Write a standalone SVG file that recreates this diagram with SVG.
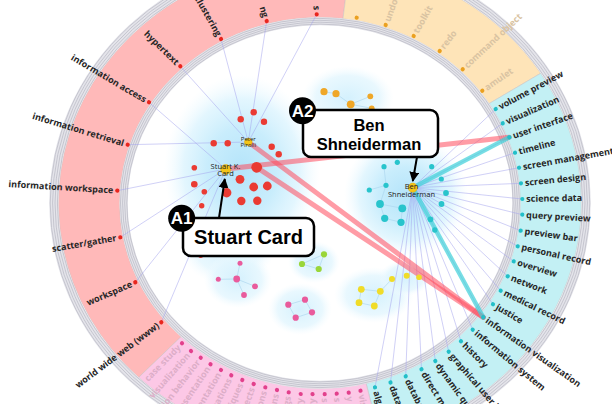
<svg xmlns="http://www.w3.org/2000/svg" width="612" height="404" viewBox="0 0 612 404">
<defs>
<radialGradient id="halo" cx="50%" cy="50%" r="50%">
<stop offset="0" stop-color="#b4e4fa" stop-opacity="1"/>
<stop offset="0.45" stop-color="#c6ecfc" stop-opacity="0.95"/>
<stop offset="0.75" stop-color="#dcf4fe" stop-opacity="0.8"/>
<stop offset="1" stop-color="#eefaff" stop-opacity="0"/>
</radialGradient>
<radialGradient id="haloLight" cx="50%" cy="50%" r="50%">
<stop offset="0" stop-color="#d2f0fd" stop-opacity="0.95"/>
<stop offset="0.7" stop-color="#e3f6fe" stop-opacity="0.8"/>
<stop offset="1" stop-color="#f2fbff" stop-opacity="0"/>
</radialGradient>
<marker id="arrow" viewBox="0 0 10 10" refX="9" refY="5" markerWidth="5" markerHeight="5" orient="auto">
<path d="M0,0 L10,5 L0,10 Z" fill="#000"/>
</marker>
<style>
.lbl{font-family:"Open Sans","DejaVu Sans",sans-serif;font-weight:700;font-size:9px;fill:#262626}
.fadeO{fill:#d9c3a2}
.fadeM{fill:#dcaec8}
.thin{stroke:#a4a4ee;stroke-width:0.65;stroke-opacity:0.8;fill:none}
.edge{stroke:#a8d4ec;stroke-width:0.6;fill:none}
.red{fill:#ea3b33}
.cy{fill:#28c4cc}
.or{fill:#efa728}
.pk{fill:#e95b9c}
.gr{fill:#9ad63a}
.ye{fill:#f0dc28}
.hub{fill:#f5c518;stroke:#e0a800;stroke-width:0.5}
.nname{font-family:"Open Sans","DejaVu Sans",sans-serif;font-size:7.5px;fill:#222;text-anchor:middle}
.dotR{fill:#e8261e}
.dotO{fill:#eaa020}
.dotC{fill:#22bfc8}
.dotM{fill:#e2408c}
.sector{stroke:#c9c0c0;stroke-width:0.5}
.box{fill:#fff;stroke:#000;stroke-width:2.5}
.call{font-family:"Liberation Sans",Arial,sans-serif;font-weight:700;fill:#000;text-anchor:middle}
.badge{font-family:"Liberation Sans",Arial,sans-serif;font-weight:700;font-size:17px;fill:#fff;text-anchor:middle}
</style>
</defs>
<rect width="612" height="404" fill="#fff"/>

<!-- ring sectors -->
<g id="ring">
<path class="sector" fill="#ffb9b9" d="M138.7,377.4 A261.4,242 0 0 1 350.0,-37.4 L343.0,18.7 A200.3,185.5 0 0 0 181.1,336.7 Z"/>
<path class="sector" fill="#fee4b8" d="M350.0,-37.4 A261.4,242 0 0 1 540.7,73.3 L489.1,103.6 A200.3,185.5 0 0 0 343.0,18.7 Z"/>
<path class="sector" fill="#c3f0f4" d="M540.7,73.3 A261.4,242 0 0 1 380.1,438.5 L366.1,383.5 A200.3,185.5 0 0 0 489.1,103.6 Z"/>
<path class="sector" fill="#fcc8e6" d="M380.1,438.5 A261.4,242 0 0 1 138.7,377.4 L181.1,336.7 A200.3,185.5 0 0 0 366.1,383.5 Z"/>
<!-- inner band -->
<ellipse cx="320" cy="203" rx="196.3" ry="181.75" fill="none" stroke="#e4e4ea" stroke-width="8"/>
<g fill="none" stroke="#c2c2cc" stroke-width="0.9">
<ellipse cx="320" cy="203" rx="193.2" ry="178.9"/>
<ellipse cx="320" cy="203" rx="195.3" ry="180.8"/>
<ellipse cx="320" cy="203" rx="197.4" ry="182.7"/>
<ellipse cx="320" cy="203" rx="199.5" ry="184.6"/>
</g>
<!-- outer band -->
<ellipse cx="320" cy="203" rx="266.2" ry="246.5" fill="none" stroke="#e4e4ea" stroke-width="9"/>
<g fill="none" stroke="#c2c2cc" stroke-width="0.9">
<ellipse cx="320" cy="203" rx="262.6" ry="243.1"/>
<ellipse cx="320" cy="203" rx="265" ry="245.4"/>
<ellipse cx="320" cy="203" rx="267.4" ry="247.6"/>
<ellipse cx="320" cy="203" rx="269.8" ry="249.8"/>
</g>
</g>

<!-- cluster halos -->
<g id="halos">
<ellipse cx="228" cy="245" rx="48" ry="40" fill="url(#haloLight)"/>
<ellipse cx="242" cy="170" rx="78" ry="95" fill="url(#halo)"/>
<ellipse cx="406" cy="195" rx="62" ry="62" fill="url(#halo)"/>
<ellipse cx="348" cy="98" rx="46" ry="32" fill="url(#haloLight)"/>
<ellipse cx="238" cy="280" rx="34" ry="28" fill="url(#haloLight)"/>
<ellipse cx="300" cy="309" rx="32" ry="26" fill="url(#haloLight)"/>
<ellipse cx="314" cy="262" rx="26" ry="21" fill="url(#haloLight)"/>
<ellipse cx="374" cy="295" rx="40" ry="28" fill="url(#haloLight)"/>
<ellipse cx="405" cy="278" rx="26" ry="18" fill="url(#haloLight)"/>
</g>

<!-- connectors -->
<g id="connectors">
<g class="thin">
<!-- Peter Pirolli -->
<line x1="248.3" y1="142" x2="316.7" y2="14.3"/>
<line x1="248.3" y1="142" x2="266.7" y2="21"/>
<line x1="248.3" y1="142" x2="221" y2="39"/>
<line x1="248.3" y1="142" x2="180.3" y2="66.3"/>
<line x1="248.3" y1="142" x2="127.7" y2="144.7"/>
<!-- Stuart K. Card -->
<line x1="225.7" y1="169" x2="149" y2="102.3"/>
<line x1="225.7" y1="169" x2="117.3" y2="190.7"/>
<line x1="225.7" y1="169" x2="120.3" y2="237.3"/>
<line x1="225.7" y1="169" x2="135.3" y2="282.3"/>
<line x1="225.7" y1="169" x2="161.3" y2="322.3"/>
<!-- Ben Shneiderman -->
<line x1="412.7" y1="187.7" x2="495.7" y2="109"/>
<line x1="412.7" y1="187.7" x2="502.7" y2="123.3"/>
<line x1="412.7" y1="187.7" x2="509.3" y2="137.3"/>
<line x1="412.7" y1="187.7" x2="515" y2="152.7"/>
<line x1="412.7" y1="187.7" x2="519" y2="167.7"/>
<line x1="412.7" y1="187.7" x2="521" y2="183.3"/>
<line x1="412.7" y1="187.7" x2="522.3" y2="199"/>
<line x1="412.7" y1="187.7" x2="522.3" y2="214.7"/>
<line x1="412.7" y1="187.7" x2="520.7" y2="230.7"/>
<line x1="412.7" y1="187.7" x2="517.7" y2="246.3"/>
<line x1="412.7" y1="187.7" x2="513.7" y2="261.3"/>
<line x1="412.7" y1="187.7" x2="507.7" y2="276.3"/>
<line x1="412.7" y1="187.7" x2="500.7" y2="290.7"/>
<line x1="412.7" y1="187.7" x2="493" y2="304.3"/>
<line x1="412.7" y1="187.7" x2="483.3" y2="317.3"/>
<line x1="412.7" y1="187.7" x2="472.7" y2="329.7"/>
<line x1="412.7" y1="187.7" x2="461" y2="341.3"/>
<line x1="412.7" y1="187.7" x2="448.7" y2="351.7"/>
<line x1="412.7" y1="187.7" x2="435.3" y2="361"/>
<line x1="412.7" y1="187.7" x2="421.5" y2="369.3"/>
<line x1="412.7" y1="187.7" x2="405.7" y2="376.3"/>
<line x1="412.7" y1="187.7" x2="390.5" y2="382.5"/>
<line x1="412.7" y1="187.7" x2="375" y2="387.3"/>
</g>
<!-- strong links -->
<g fill="none" stroke-linecap="round">
<line x1="225.7" y1="169" x2="509.3" y2="137.3" stroke="#ff4b5c" stroke-opacity="0.55" stroke-width="5"/>
<line x1="248.3" y1="142" x2="483.3" y2="317.3" stroke="#ff4b5c" stroke-opacity="0.55" stroke-width="5"/>
<line x1="256.7" y1="167.3" x2="483.3" y2="317.3" stroke="#ff4b5c" stroke-opacity="0.55" stroke-width="5"/>
<line x1="412.7" y1="187.7" x2="509.3" y2="137.3" stroke="#3fd0d8" stroke-opacity="0.7" stroke-width="4.5"/>
<line x1="412.7" y1="187.7" x2="483.3" y2="317.3" stroke="#3fd0d8" stroke-opacity="0.7" stroke-width="4.5"/>
</g>
<!-- cluster edges -->
<g class="edge">
<path d="M240,263.3 L236.7,279 L218.3,279.3 M236.7,279 L255,286.3 M236.7,279 L244,295"/>
<path d="M288.3,304.7 L305,299.7 L312,312.3 L295.7,317.7 Z"/>
<path d="M302,264 L324,254.3 L318.7,269 Z"/>
<path d="M361.3,289.3 L380.3,291.3 L374.3,306 L359,302.7 Z M380.3,291.3 L392,279"/>
<path d="M324,91.7 L336,93.7 L350.7,104.3 L370.3,96.3 M350.7,104.3 L371.7,108.3"/>
<path d="M384,166.7 L386,185.3 L369.3,190 M386,185.3 L380,204 L384.7,218.3 L401,222.3 L402.3,208.3 L380,204"/>
</g>
</g>

<!-- Stuart K. Card / Peter Pirolli cluster -->
<g id="cluster-card">
<circle class="red" cx="240.7" cy="119.3" r="3.2"/>
<circle class="red" cx="253.7" cy="112.3" r="3.2"/>
<circle class="red" cx="264" cy="121.7" r="3.2"/>
<circle class="red" cx="213.7" cy="143.3" r="3.2"/>
<circle class="red" cx="227.7" cy="143.3" r="3.2"/>
<circle class="red" cx="271.7" cy="146.7" r="3.2"/>
<circle class="red" cx="278.7" cy="154.3" r="3.2"/>
<circle class="red" cx="194.3" cy="167.7" r="2.8"/>
<circle class="red" cx="256.7" cy="167.3" r="5.4"/>
<circle class="red" cx="194.3" cy="184.3" r="3.3"/>
<circle class="red" cx="240" cy="179.3" r="4.4"/>
<circle class="red" cx="253.7" cy="187" r="4.4"/>
<circle class="red" cx="267.3" cy="186" r="4.4"/>
<circle class="red" cx="204.3" cy="191.7" r="2.8"/>
<circle class="red" cx="226.7" cy="192.7" r="4.7"/>
<circle class="red" cx="241.3" cy="201" r="4.2"/>
<circle class="red" cx="257.3" cy="200.7" r="4.2"/>
<circle class="red" cx="201.7" cy="205.7" r="2.7"/>
<circle class="red" cx="200.7" cy="255.3" r="2.7"/>
</g>
<g id="node-pirolli">
<circle class="hub" cx="248.3" cy="142" r="3.8"/>
<text class="nname" style="font-size:6px"><tspan x="248.3" y="141.3">Peter</tspan><tspan x="248.3" y="147.3">Pirolli</tspan></text>
</g>
<g id="node-card">
<circle class="hub" cx="225.7" cy="169.5" r="5"/>
<text class="nname"><tspan x="225.5" y="169">Stuart K.</tspan><tspan x="225.5" y="176">Card</tspan></text>
</g>

<!-- orange cluster -->
<g id="cluster-orange">
<circle class="or" cx="324" cy="91.7" r="3.6"/>
<circle class="or" cx="336" cy="93.7" r="3.6"/>
<circle class="or" cx="350.7" cy="104.3" r="3.9"/>
<circle class="or" cx="370.3" cy="96.3" r="2.9"/>
<circle class="or" cx="371.7" cy="108.3" r="2.9"/>
</g>

<!-- Ben Shneiderman cluster -->
<g id="cluster-shneiderman">
<circle class="cy" cx="384" cy="166.7" r="2.6"/>
<circle class="cy" cx="397.3" cy="162.3" r="2.6"/>
<circle class="cy" cx="431.7" cy="166.7" r="2.6"/>
<circle class="cy" cx="441.3" cy="179" r="2.6"/>
<circle class="cy" cx="369.3" cy="190" r="2.6"/>
<circle class="cy" cx="386" cy="185.3" r="2.6"/>
<circle class="cy" cx="380" cy="204" r="3.9"/>
<circle class="cy" cx="402.3" cy="208.3" r="3.9"/>
<circle class="cy" cx="384.7" cy="218.3" r="3.6"/>
<circle class="cy" cx="401" cy="222.3" r="3.6"/>
<circle class="cy" cx="430.5" cy="219.3" r="2.9"/>
<circle class="cy" cx="441.5" cy="204" r="2.9"/>
<circle class="cy" cx="446" cy="193" r="2.9"/>
<circle class="cy" cx="434.8" cy="230" r="2.7"/>
</g>
<g id="node-shneiderman">
<circle class="hub" cx="412.7" cy="187.7" r="4.6"/>
<text class="nname"><tspan x="411.5" y="189">Ben</tspan><tspan x="411.5" y="196.5">Shneiderman</tspan></text>
</g>

<!-- small clusters -->
<g id="cluster-pink">
<circle class="pk" cx="240" cy="263.3" r="2.5"/>
<circle class="pk" cx="218.3" cy="279.3" r="2.5"/>
<circle class="pk" cx="236.7" cy="279" r="3.4"/>
<circle class="pk" cx="255" cy="286.3" r="2.9"/>
<circle class="pk" cx="244" cy="295" r="2.9"/>
<circle class="pk" cx="288.3" cy="304.7" r="3.1"/>
<circle class="pk" cx="305" cy="299.7" r="3.1"/>
<circle class="pk" cx="312" cy="312.3" r="3.1"/>
<circle class="pk" cx="295.7" cy="317.7" r="3.1"/>
</g>
<g id="cluster-green">
<circle class="gr" cx="302" cy="264" r="3.1"/>
<circle class="gr" cx="324" cy="254.3" r="3.1"/>
<circle class="gr" cx="318.7" cy="269" r="3.1"/>
</g>
<g id="cluster-yellow">
<circle class="ye" cx="361.3" cy="289.3" r="3.4"/>
<circle class="ye" cx="380.3" cy="291.3" r="3.4"/>
<circle class="ye" cx="359" cy="302.7" r="3.4"/>
<circle class="ye" cx="374.3" cy="306" r="3.4"/>
<circle class="ye" cx="392" cy="279" r="3"/>
<circle class="ye" cx="406.7" cy="275.7" r="3"/>
<circle class="ye" cx="419" cy="277.3" r="2.8"/>
</g>

<!-- keyword labels: salmon sector -->
<g id="keywords-salmon" class="lbl">
<g transform="translate(316.7,14.3) rotate(89)"><circle class="dotR" r="2.1"/><text x="-4" y="3" text-anchor="end">s</text></g>
<g transform="translate(266.7,21) rotate(73.7)"><circle class="dotR" r="2.1"/><text x="-4" y="3" text-anchor="end">ng</text></g>
<g transform="translate(221,39) rotate(60.5)"><circle class="dotR" r="2.1"/><text x="-4" y="3" text-anchor="end">clustering</text></g>
<g transform="translate(180.3,66.3) rotate(44.4)"><circle class="dotR" r="2.1"/><text x="-4" y="3" text-anchor="end">hypertext</text></g>
<g transform="translate(149,102.3) rotate(30.5)"><circle class="dotR" r="2.1"/><text x="-4" y="3" text-anchor="end">information access</text></g>
<g transform="translate(127.7,144.7) rotate(16.9)"><circle class="dotR" r="2.1"/><text x="-4" y="3" text-anchor="end">information retrieval</text></g>
<g transform="translate(117.3,190.7) rotate(3.5)"><circle class="dotR" r="2.1"/><text x="-4" y="3" text-anchor="end">information workspace</text></g>
<g transform="translate(120.3,237.3) rotate(-9.7)"><circle class="dotR" r="2.1"/><text x="-4" y="3" text-anchor="end">scatter/gather</text></g>
<g transform="translate(135.3,282.3) rotate(-23.2)"><circle class="dotR" r="2.1"/><text x="-4" y="3" text-anchor="end">workspace</text></g>
<g transform="translate(161.3,322.3) rotate(-36.9)"><circle class="dotR" r="2.1"/><text x="-4" y="3" text-anchor="end">world wide web (www)</text></g>
</g>

<!-- keyword labels: orange sector -->
<g id="keywords-orange" class="lbl">
<g transform="translate(356.7,17.7) rotate(-78.8)"><circle class="dotO" r="2.1"/></g>
<g transform="translate(385.7,25) rotate(-69.7)"><circle class="dotO" r="2.1"/><text class="fadeO" x="4" y="3">undo</text></g>
<g transform="translate(413.7,36) rotate(-60.7)"><circle class="dotO" r="2.1"/><text class="fadeO" x="4" y="3">toolkit</text></g>
<g transform="translate(439.7,51) rotate(-51.8)"><circle class="dotO" r="2.1"/><text class="fadeO" x="4" y="3">redo</text></g>
<g transform="translate(462.7,69.3) rotate(-43.1)"><circle class="dotO" r="2.1"/><text class="fadeO" x="4" y="3">command object</text></g>
<g transform="translate(482.3,90.7) rotate(-34.7)"><circle class="dotO" r="2.1"/><text class="fadeO" x="4" y="3">amulet</text></g>
</g>

<!-- keyword labels: cyan sector -->
<g id="keywords-cyan" class="lbl">
<g transform="translate(495.7,109) rotate(-28.1)"><circle class="dotC" r="2.1"/><text x="4" y="3">volume preview</text></g>
<g transform="translate(502.7,123.3) rotate(-23.6)"><circle class="dotC" r="2.1"/><text x="4" y="3">visualization</text></g>
<g transform="translate(509.3,137.3) rotate(-19.1)"><circle class="dotC" r="2.1"/><text x="4" y="3">user interface</text></g>
<g transform="translate(515,152.7) rotate(-14.5)"><circle class="dotC" r="2.1"/><text x="4" y="3">timeline</text></g>
<g transform="translate(519,167.7) rotate(-10.1)"><circle class="dotC" r="2.1"/><text x="4" y="3">screen management</text></g>
<g transform="translate(521,183.3) rotate(-5.6)"><circle class="dotC" r="2.1"/><text x="4" y="3">screen design</text></g>
<g transform="translate(522.3,199) rotate(-1.1)"><circle class="dotC" r="2.1"/><text x="4" y="3">science data</text></g>
<g transform="translate(522.3,214.7) rotate(3.3)"><circle class="dotC" r="2.1"/><text x="4" y="3">query preview</text></g>
<g transform="translate(520.7,230.7) rotate(7.9)"><circle class="dotC" r="2.1"/><text x="4" y="3">preview bar</text></g>
<g transform="translate(517.7,246.3) rotate(12.4)"><circle class="dotC" r="2.1"/><text x="4" y="3">personal record</text></g>
<g transform="translate(513.7,261.3) rotate(16.8)"><circle class="dotC" r="2.1"/><text x="4" y="3">overview</text></g>
<g transform="translate(507.7,276.3) rotate(21.3)"><circle class="dotC" r="2.1"/><text x="4" y="3">network</text></g>
<g transform="translate(500.7,290.7) rotate(25.9)"><circle class="dotC" r="2.1"/><text x="4" y="3">medical record</text></g>
<g transform="translate(493,304.3) rotate(30.4)"><circle class="dotC" r="2.1"/><text x="4" y="3">justice</text></g>
<g transform="translate(483.3,317.3) rotate(35)"><circle class="dotC" r="2.1"/><text x="4" y="3">information visualization</text></g>
<g transform="translate(472.7,329.7) rotate(39.7)"><circle class="dotC" r="2.1"/><text x="4" y="3">information system</text></g>
<g transform="translate(461,341.3) rotate(44.4)"><circle class="dotC" r="2.1"/><text x="4" y="3">history</text></g>
<g transform="translate(448.7,351.7) rotate(49.1)"><circle class="dotC" r="2.1"/><text x="4" y="3">graphical user in</text></g>
<g transform="translate(435.3,361) rotate(53.9)"><circle class="dotC" r="2.1"/><text x="4" y="3">dynamic qu</text></g>
<g transform="translate(421.5,369.3) rotate(58.6)"><circle class="dotC" r="2.1"/><text x="4" y="3">direct ma</text></g>
<g transform="translate(405.7,376.3) rotate(63.7)"><circle class="dotC" r="2.1"/><text x="4" y="3">databa</text></g>
<g transform="translate(390.5,382.5) rotate(68.6)"><circle class="dotC" r="2.1"/><text x="4" y="3">data</text></g>
<g transform="translate(375,387.3) rotate(73.4)"><circle class="dotC" r="2.1"/><text x="4" y="3">alg</text></g>
</g>

<!-- keyword labels: magenta sector -->
<g id="keywords-magenta" class="lbl">
<g transform="translate(182,343.3) rotate(-45.5)"><circle class="dotM" r="2.1"/><text class="fadeM" x="-4" y="3" text-anchor="end">case study</text></g>
<g transform="translate(191,351) rotate(-48.9)"><circle class="dotM" r="2.1"/><text class="fadeM" x="-4" y="3" text-anchor="end">visualization</text></g>
<g transform="translate(200.7,357.7) rotate(-52.4)"><circle class="dotM" r="2.1"/><text class="fadeM" x="-4" y="3" text-anchor="end">ion behavior</text></g>
<g transform="translate(210.5,364.2) rotate(-55.8)"><circle class="dotM" r="2.1"/><text class="fadeM" x="-4" y="3" text-anchor="end">esentation</text></g>
<g transform="translate(221,370) rotate(-59.3)"><circle class="dotM" r="2.1"/><text class="fadeM" x="-4" y="3" text-anchor="end">entation</text></g>
<g transform="translate(231.3,375.3) rotate(-62.8)"><circle class="dotM" r="2.1"/><text class="fadeM" x="-4" y="3" text-anchor="end">entations</text></g>
<g transform="translate(242.3,380) rotate(-66.3)"><circle class="dotM" r="2.1"/><text class="fadeM" x="-4" y="3" text-anchor="end">techniques</text></g>
<g transform="translate(253.7,384) rotate(-69.9)"><circle class="dotM" r="2.1"/><text class="fadeM" x="-4" y="3" text-anchor="end">projects</text></g>
<g transform="translate(265.3,387.3) rotate(-73.5)"><circle class="dotM" r="2.1"/><text class="fadeM" x="-4" y="3" text-anchor="end">ations</text></g>
<g transform="translate(277,390) rotate(-77)"><circle class="dotM" r="2.1"/><text class="fadeM" x="-4" y="3" text-anchor="end">tions</text></g>
<g transform="translate(288.7,392.3) rotate(-80.6)"><circle class="dotM" r="2.1"/><text class="fadeM" x="-4" y="3" text-anchor="end">ings</text></g>
<g transform="translate(300.7,394) rotate(-84.2)"><circle class="dotM" r="2.1"/><text class="fadeM" x="-4" y="3" text-anchor="end">ry</text></g>
<g transform="translate(312.5,394.2) rotate(-87.8)"><circle class="dotM" r="2.1"/><text class="fadeM" x="-4" y="3" text-anchor="end">ry</text></g>
<g transform="translate(324.7,394.2) rotate(88.6)"><circle class="dotM" r="2.1"/><text class="fadeM" x="4" y="3">s</text></g>
<g transform="translate(336.7,393.7) rotate(85)"><circle class="dotM" r="2.1"/><text class="fadeM" x="4" y="3">s</text></g>
<g transform="translate(348.7,392.7) rotate(81.4)"><circle class="dotM" r="2.1"/><text class="fadeM" x="4" y="3">y</text></g>
<g transform="translate(360.5,390.7) rotate(77.8)"><circle class="dotM" r="2.1"/><text class="fadeM" x="4" y="3">vis</text></g>
</g>

<!-- callout A1 -->
<g id="callout-a1">
<line x1="219" y1="218" x2="224.8" y2="179" stroke="#000" stroke-width="2" marker-end="url(#arrow)"/>
<rect class="box" x="183" y="218" width="131" height="38" rx="8"/>
<text class="call" x="248.5" y="243.5" font-size="20">Stuart Card</text>
<circle cx="181.7" cy="218.3" r="13.5" fill="#000"/>
<text class="badge" x="181.7" y="224.3">A1</text>
</g>

<!-- callout A2 -->
<g id="callout-a2">
<line x1="417" y1="157" x2="412.8" y2="181" stroke="#000" stroke-width="2" marker-end="url(#arrow)"/>
<rect class="box" x="303" y="110" width="135" height="47" rx="8"/>
<text class="call" font-size="16.5"><tspan x="369" y="131">Ben</tspan><tspan x="369" y="150">Shneiderman</tspan></text>
<circle cx="302.5" cy="110.7" r="13.5" fill="#000"/>
<text class="badge" x="302.5" y="116.7">A2</text>
</g>
</svg>
